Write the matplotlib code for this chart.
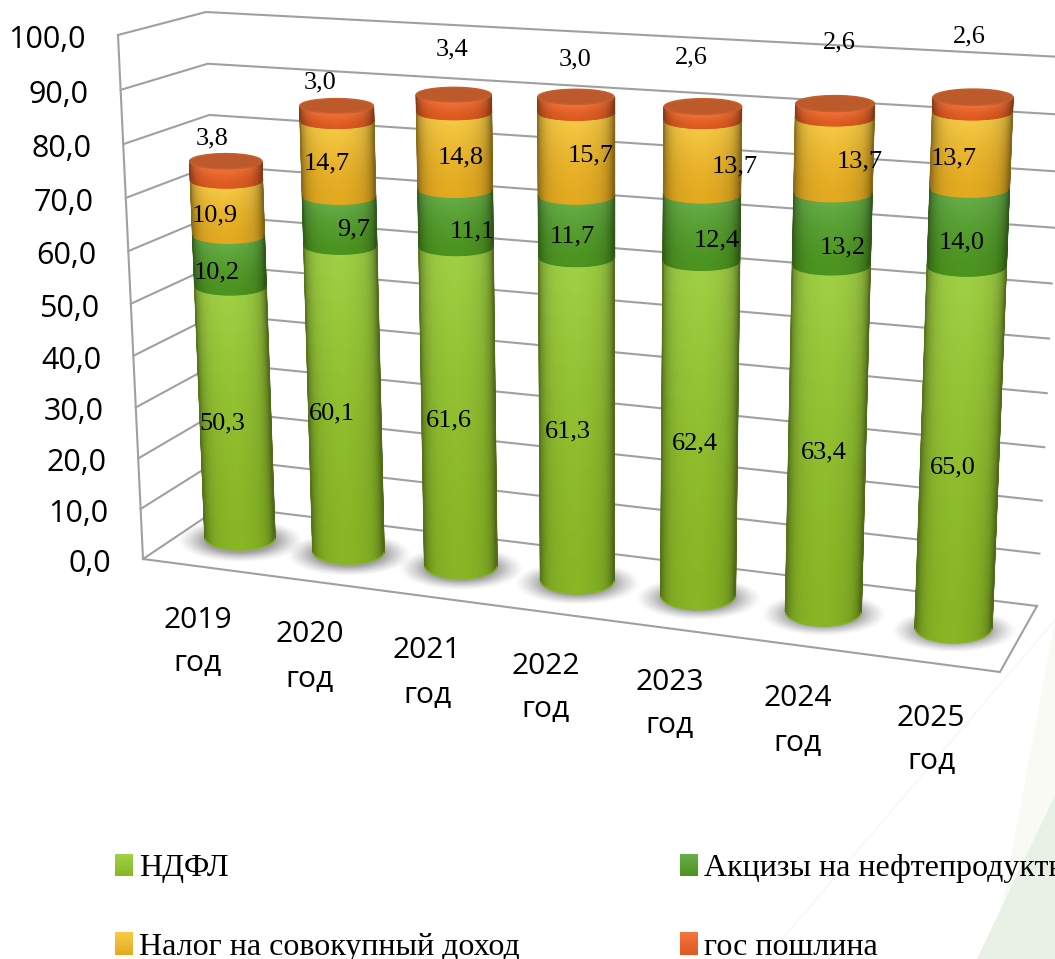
import numpy as np
import matplotlib
matplotlib.use("Agg")
import matplotlib.pyplot as plt
from matplotlib.patches import Polygon, Patch, Rectangle
from matplotlib.colors import to_rgb
from matplotlib.legend_handler import HandlerBase

# ---------- data ----------
years = ["2019", "2020", "2021", "2022", "2023", "2024", "2025"]
unit_word = "год"
ndfl = [50.3, 60.1, 61.6, 61.3, 62.4, 63.4, 65.0]
excise = [10.2, 9.7, 11.1, 11.7, 12.4, 13.2, 14.0]
income_tax = [10.9, 14.7, 14.8, 15.7, 13.7, 13.7, 13.7]
duty = [3.8, 3.0, 3.4, 3.0, 2.6, 2.6, 2.6]
series_names = ["НДФЛ", "Акцизы на нефтепродукты", "Налог на совокупный доход", "гос пошлина"]
y_ticks = [0, 10, 20, 30, 40, 50, 60, 70, 80, 90, 100]

# ---------- layout of the projected scene (pixels) ----------
W, H = 1055, 959
LEFT_FRONT = ((143, 559), (118, 35))
LEFT_BACK = ((222, 506), (206, 12))
RIGHT_BACK = ((1037, 606), (1062, 57))
FLOOR_FRONT_RIGHT = (1000, 672)
BAR_CORNERS = {(0, 0): (240, 538), (0, 1): (221, 37), (6, 0): (953.5, 628), (6, 1): (974, 71)}

# label anchor points in pixels, one row per series (bottom to top)
label_xy = [
    [(222, 423), (332, 413), (449, 420), (568, 431), (695, 443), (824, 452), (953, 467)],
    [(217, 272), (354, 229), (472, 231), (572, 236), (717, 240), (843, 247), (962, 242)],
    [(215, 215), (327, 163), (461, 157), (591, 155), (735, 166), (860, 161), (954, 158)],
    [(212, 138), (320, 82), (452, 49), (575, 59), (691, 57), (839, 42), (969, 36)],
]
cat_xy = [(198, 620), (310, 635), (427, 651), (546, 666), (670, 682), (798, 699), (931, 718)]

body_top = ["#a0d044", "#66ad48", "#f6ca45", "#f4733a"]
body_bot = ["#88b625", "#4c9420", "#e3aa20", "#dd5a20"]
GRID = "#a0a0a0"


def warp(v):
    v = np.asarray(v, float)
    return v / (100 + 0.053 * (100 - v))


def homography(pairs):
    A, b = [], []
    for (u, v), (x, y) in pairs.items():
        A.append([u, v, 1, 0, 0, 0, -u * x, -v * x]); b.append(x)
        A.append([0, 0, 0, u, v, 1, -u * y, -v * y]); b.append(y)
    return np.append(np.linalg.solve(np.array(A, float), np.array(b, float)), 1).reshape(3, 3)


HB = homography(BAR_CORNERS)


def project(i, t):
    d = HB[2, 0] * i + HB[2, 1] * t + HB[2, 2]
    return (HB[0, 0] * i + HB[0, 1] * t + HB[0, 2]) / d, (HB[1, 0] * i + HB[1, 1] * t + HB[1, 2]) / d


def bar_xy(i, v):
    f = np.asarray(v, float) / 100.0
    x0, y0 = project(i, 0.0)
    x1, y1 = project(i, 1.0)
    return x0 + (x1 - x0) * f, y0 + (y1 - y0) * f


def lerp(seg, v):
    t = warp(v)
    return seg[0][0] + (seg[1][0] - seg[0][0]) * t, seg[0][1] + (seg[1][1] - seg[0][1]) * t


def radius_a(i, v):
    return (35 + 0.58 * i) * (1 + 0.0004 * np.asarray(v, float))


def radius_b(i, v):
    return (12 + 0.5 * i) * (1 - 0.0048 * np.asarray(v, float))


class GradientHandler(HandlerBase):
    """Legend key drawn as a small top-to-bottom colour fade."""

    def create_artists(self, legend, orig_handle, xd, yd, width, height, fontsize, trans):
        k = orig_handle.get_gid()
        top, bot = np.array(to_rgb(body_top[k])), np.array(to_rgb(body_bot[k]))
        n = 18
        out = []
        for j in range(n):
            f = j / (n - 1)
            out.append(Rectangle((-xd, -yd + height * (1 - (j + 1) / n)), width, height / n + 0.3,
                                 fc=top * (1 - f) + bot * f, ec="none", antialiased=False, transform=trans))
        return out


fig = plt.figure(figsize=(W / 100, H / 100), dpi=100, facecolor="white")
ax = fig.add_axes([0, 0, 1, 1])
ax.set_xlim(0, W)
ax.set_ylim(H, 0)
ax.axis("off")

# faint background shapes
ax.add_patch(Polygon([(1002, 907), (1055, 620), (1055, 795)], fc="#f8faf3", ec="none", zorder=0))
ax.add_patch(Polygon([(977, 959), (1055, 795), (1055, 959)], fc="#e8f1e3", ec="none", zorder=0))
ax.plot([765, 1055], [959, 620], color="#f6f7f2", lw=1, zorder=0)

# walls and gridlines
for v in y_ticks:
    a, b, c = lerp(LEFT_FRONT, v), lerp(LEFT_BACK, v), lerp(RIGHT_BACK, v)
    ax.plot([a[0], b[0], c[0]], [a[1], b[1], c[1]], color=GRID, lw=1.5, zorder=1, solid_joinstyle="miter")
ax.plot(*zip(*LEFT_FRONT), color=GRID, lw=1.5, zorder=1)
ax.plot([LEFT_FRONT[0][0], FLOOR_FRONT_RIGHT[0], RIGHT_BACK[0][0]],
        [LEFT_FRONT[0][1], FLOOR_FRONT_RIGHT[1], RIGHT_BACK[0][1]], color=GRID, lw=1.5, zorder=1, solid_joinstyle="miter")

# tick labels
for v in y_ticks:
    x, y = lerp(LEFT_FRONT, v)
    ax.text(x - 32, y + 5, f"{v:.1f}".replace(".", ","), ha="right", va="center",
            family="Open Sans", fontsize=22, color="black", zorder=6)
for (x, y), yr in zip(cat_xy, years):
    ax.text(x, y, yr, ha="center", va="center", family="Open Sans", fontsize=21.6, zorder=6)
    ax.text(x, y + 44, unit_word, ha="center", va="center", family="Open Sans", fontsize=21.6, zorder=6)

# floor shadows
yy, xx = np.mgrid[0:H, 0:W]
for i in range(len(years)):
    cx, cy = bar_xy(i, 0)
    d = np.sqrt(((xx - cx) / 63.0) ** 2 + ((yy - cy - 2) / 22.0) ** 2)
    alpha = np.clip((1.0 - d) / 0.45, 0, 1) ** 1.3 * 0.62
    rgba = np.zeros((H, W, 4))
    rgba[..., :3] = 0.40
    rgba[..., 3] = alpha
    ax.imshow(rgba, extent=(0, W, H, 0), zorder=2, interpolation="nearest", aspect="auto")
ax.set_xlim(0, W)
ax.set_ylim(H, 0)

# cylinders
stack = [ndfl, excise, income_tax, duty]
theta = np.linspace(np.pi, 0, 61)
s = np.cos(theta)
shade = 1 - 0.30 * np.abs(s) ** 7 - 0.10 * np.abs(s) ** 2 - 0.04 * np.clip(s, 0, 1)
for i in range(len(years)):
    base = 0.0
    for k, values in enumerate(stack):
        top = base + values[i]
        vs = np.linspace(base, top, 14)
        cx, cy = bar_xy(i, vs)
        a, b = radius_a(i, vs), radius_b(i, vs)
        X = cx[:, None] + a[:, None] * np.cos(theta)[None, :]
        Y = cy[:, None] + b[:, None] * np.sin(theta)[None, :]
        f = np.linspace(0, 1, len(vs))[:, None, None] ** 1.6
        C = np.array(to_rgb(body_bot[k]))[None, None, :] * (1 - f) + np.array(to_rgb(body_top[k]))[None, None, :] * f
        C = np.clip(C * shade[None, :, None], 0, 1)
        ax.pcolormesh(X, Y, C, shading="gouraud", zorder=3)
        ax.plot(X[:, 0], Y[:, 0], color=C[len(vs) // 2, 0], lw=1.0, zorder=3.1)
        ax.plot(X[:, -1], Y[:, -1], color=C[len(vs) // 2, -1], lw=1.0, zorder=3.1)
        ax.plot(X[0], Y[0], color=body_bot[k], lw=0.8, zorder=3.05 if k == 0 else 2.9)
        base = top
    # lid
    cx, cy = bar_xy(i, base)
    a, b = radius_a(i, base), radius_b(i, base)
    ph = np.linspace(0, 2 * np.pi, 90)
    ax.add_patch(Polygon(np.c_[cx + a * np.cos(ph), cy + b * np.sin(ph)], closed=True,
                         fc="#bd5a2c", ec="#c75f2c", lw=1.0, zorder=3.3))

# value labels
for k, values in enumerate(stack):
    for (x, y), val in zip(label_xy[k], values):
        ax.text(x, y, f"{val:.1f}".replace(".", ","), ha="center", va="center",
                family="Liberation Serif", fontsize=19, color="black", zorder=7)

# legend
handles = [Patch(label=series_names[j], gid=j) for j in (0, 2, 1, 3)]
leg = ax.legend(handles=handles, ncols=2, loc="upper left", bbox_to_anchor=(115 / W, 1 - 854 / H),
                frameon=False, borderaxespad=0, borderpad=0,
                prop={"family": "Liberation Serif", "size": 23},
                handlelength=0.56, handleheight=0.7, handletextpad=0.2,
                labelspacing=1.55, columnspacing=5.0,
                handler_map={Patch: GradientHandler()})
leg.set_zorder(7)

fig.savefig("out.png", dpi=100, facecolor="white")
